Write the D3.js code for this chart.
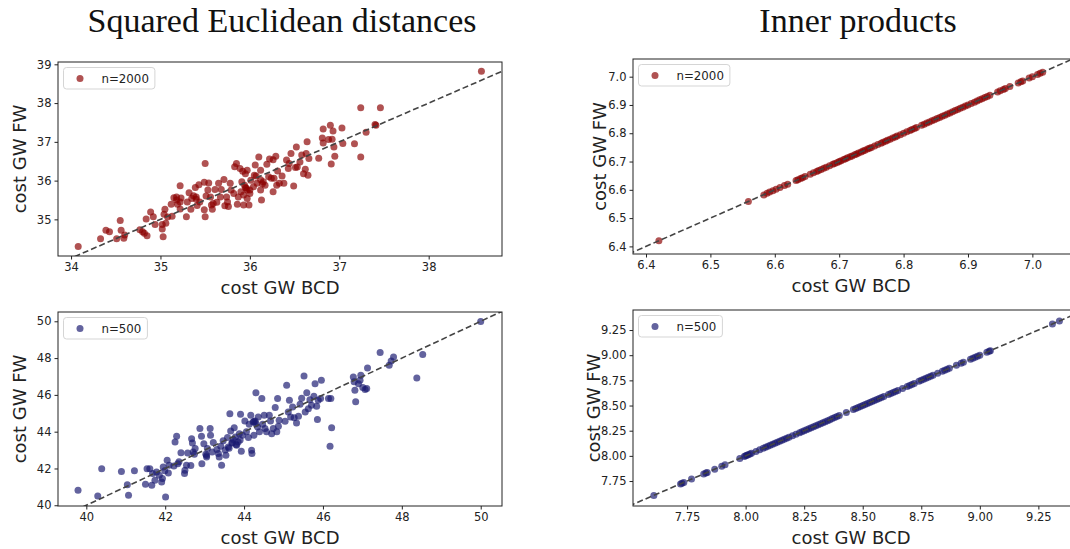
<!DOCTYPE html>
<html lang="en">
<head>
<meta charset="utf-8">
<title>GW costs: BCD vs FW</title>
<script src="https://d3js.org/d3.v7.min.js"></script>
<style>
  body { margin: 0; background: #fff; }
  svg text { font-family: "DejaVu Sans", sans-serif; fill: #222; }
  .title { font-family: "Liberation Serif", "Times New Roman", serif; fill: #111; }
</style>
</head>
<body>
<div id="chart"></div>
<script>

var W = 1070, H = 549;

// ---- data: [cost GW BCD, cost GW FW] ----
var sqPts2000 = [
  [34.08,34.30],[34.33,34.50],[34.39,34.72],[34.43,34.68],[34.51,34.50],[34.55,34.97],[34.56,34.72],[34.59,34.51],
  [34.60,34.60],[34.77,34.73],[34.80,34.68],[34.84,35.01],[34.85,34.58],[34.82,34.64],[34.89,35.19],[34.92,35.07],
  [34.94,34.87],[35.02,34.87],[35.02,34.75],[35.03,34.55],[35.04,35.13],[35.05,35.26],[35.06,34.90],[35.08,35.06],
  [35.13,35.08],[35.12,35.39],[35.15,35.56],[35.18,35.58],[35.19,35.39],[35.22,35.45],[35.22,35.87],[35.22,35.27],
  [35.23,35.55],[35.29,35.07],[35.30,35.45],[35.32,35.69],[35.34,35.26],[35.35,35.54],[35.37,35.61],[35.39,35.82],
  [35.40,35.52],[35.41,35.36],[35.43,35.89],[35.44,35.45],[35.49,35.25],[35.49,35.96],[35.50,35.07],[35.50,36.44],
  [35.51,35.60],[35.53,35.76],[35.54,35.94],[35.56,35.58],[35.57,35.37],[35.58,35.26],[35.59,35.41],[35.61,35.77],
  [35.63,35.44],[35.65,35.93],[35.67,35.58],[35.68,35.77],[35.71,36.03],[35.72,35.35],[35.74,35.58],[35.75,35.45],
  [35.76,35.33],[35.78,35.93],[35.79,35.76],[35.82,35.67],[35.83,36.36],[35.85,36.44],[35.86,35.39],[35.87,35.58],
  [35.89,36.31],[35.90,35.71],[35.91,35.97],[35.93,35.37],[35.93,35.63],[35.94,35.88],[35.95,36.18],[35.96,35.80],
  [35.97,35.54],[35.97,36.27],[35.99,35.37],[36.00,35.76],[36.00,35.67],[36.01,36.01],[36.04,35.84],[36.06,36.40],
  [36.07,36.12],[36.08,35.93],[36.10,36.61],[36.12,35.76],[36.12,36.27],[36.13,35.50],[36.15,35.97],[36.17,35.88],
  [36.19,36.42],[36.21,36.10],[36.22,36.56],[36.24,36.06],[36.26,35.71],[36.26,36.54],[36.27,36.06],[36.29,36.63],
  [36.30,35.88],[36.31,36.25],[36.33,35.93],[36.36,36.12],[36.38,35.93],[36.41,36.53],[36.43,36.31],[36.44,36.44],
  [36.46,36.70],[36.49,35.86],[36.51,36.34],[36.52,36.87],[36.53,36.35],[36.56,36.48],[36.58,36.66],[36.60,36.18],
  [36.62,36.29],[36.63,36.70],[36.64,37.00],[36.65,36.14],[36.66,36.57],[36.77,36.58],[36.81,37.10],[36.82,37.33],
  [36.82,36.97],[36.88,37.06],[36.90,37.43],[36.91,36.43],[36.92,37.07],[36.93,37.28],[36.94,36.87],[36.95,36.63],
  [37.03,37.36],[37.04,36.96],[37.17,36.95],[37.24,36.61],[37.24,37.88],[37.30,37.25],[37.40,37.45],[37.41,37.43],
  [37.46,37.88],[38.59,38.82],
  [35.95,35.82],[35.97,35.76],[36.05,36.14],[35.40,35.58],[35.18,35.50],[36.12,36.02],[35.92,36.24],[36.14,35.92]
];

var ipPts2000 = [
  [6.420,6.420],[6.559,6.559],[6.583,6.582],[6.588,6.588],[6.592,6.592],[6.597,6.597],[6.602,6.602],[6.608,6.608],
  [6.615,6.615],[6.620,6.620],[6.633,6.633],[6.636,6.636],[6.640,6.640],[6.643,6.643],[6.647,6.647],[6.655,6.655],
  [6.660,6.660],[6.665,6.665],[6.668,6.668],[6.672,6.672],[6.676,6.676],[6.680,6.680],[6.685,6.685],[6.690,6.690],
  [6.693,6.693],[6.697,6.697],[6.700,6.700],[6.703,6.703],[6.707,6.707],[6.710,6.710],[6.713,6.713],[6.717,6.717],
  [6.720,6.720],[6.724,6.724],[6.727,6.727],[6.730,6.730],[6.734,6.734],[6.737,6.737],[6.740,6.740],[6.744,6.744],
  [6.747,6.747],[6.750,6.750],[6.755,6.755],[6.760,6.760],[6.765,6.765],[6.768,6.768],[6.772,6.772],[6.775,6.775],
  [6.779,6.779],[6.783,6.783],[6.787,6.787],[6.790,6.790],[6.795,6.795],[6.800,6.800],[6.805,6.805],[6.810,6.810],
  [6.813,6.813],[6.817,6.817],[6.820,6.820],[6.828,6.828],[6.832,6.832],[6.836,6.836],[6.840,6.840],[6.844,6.844],
  [6.848,6.848],[6.852,6.852],[6.856,6.856],[6.860,6.860],[6.864,6.864],[6.868,6.868],[6.872,6.872],[6.876,6.876],
  [6.880,6.880],[6.884,6.884],[6.888,6.888],[6.892,6.892],[6.896,6.896],[6.900,6.900],[6.905,6.905],[6.910,6.910],
  [6.914,6.914],[6.918,6.918],[6.922,6.922],[6.926,6.926],[6.930,6.930],[6.934,6.934],[6.946,6.946],[6.950,6.950],
  [6.955,6.955],[6.958,6.958],[6.965,6.965],[6.978,6.978],[6.982,6.982],[6.985,6.985],[6.995,6.995],[7.000,7.000],
  [7.008,7.008],[7.012,7.012],[7.016,7.016]
];

var sqPts500 = [
  [39.79,40.82],[40.29,40.51],[40.39,41.99],[40.89,41.83],[41.04,41.12],[41.07,40.54],[41.22,41.87],[41.50,41.14],
  [41.54,41.99],[41.61,41.99],[41.66,41.09],[41.68,41.72],[41.74,41.36],[41.78,41.81],[41.85,41.63],[41.91,41.27],
  [41.93,41.45],[41.95,42.08],[41.99,41.87],[42.01,40.45],[42.05,42.45],[42.08,41.76],[42.10,42.17],[42.22,42.14],
  [42.25,43.44],[42.29,43.75],[42.32,42.26],[42.35,42.36],[42.40,42.86],[42.49,41.72],[42.50,41.90],[42.54,42.17],
  [42.57,42.84],[42.65,42.16],[42.67,43.62],[42.69,43.39],[42.71,42.90],[42.74,42.77],[42.76,43.08],[42.88,44.17],
  [42.92,43.75],[42.93,42.26],[42.98,43.35],[43.03,42.77],[43.05,42.63],[43.07,43.08],[43.14,44.17],[43.15,43.80],
  [43.19,42.90],[43.22,43.41],[43.31,43.03],[43.35,42.81],[43.37,42.63],[43.41,43.21],[43.43,42.17],[43.47,43.50],
  [43.52,43.00],[43.54,42.72],[43.58,43.68],[43.60,43.17],[43.64,44.98],[43.66,44.04],[43.69,43.39],[43.73,43.57],
  [43.75,44.22],[43.78,43.71],[43.81,43.26],[43.85,43.44],[43.88,43.89],[43.91,44.95],[43.93,42.93],[43.96,43.80],
  [44.02,44.58],[44.06,43.99],[44.11,43.68],[44.13,44.40],[44.17,44.89],[44.19,42.99],[44.20,42.81],[44.23,44.53],
  [44.25,43.80],[44.28,44.58],[44.30,46.11],[44.34,44.26],[44.36,44.80],[44.39,43.99],[44.45,45.80],[44.47,44.40],
  [44.51,44.89],[44.53,44.17],[44.57,43.99],[44.64,44.89],[44.67,44.58],[44.70,43.89],[44.74,44.17],[44.79,45.31],
  [44.83,43.99],[44.85,45.80],[44.87,44.29],[44.89,44.62],[45.04,44.57],[45.08,46.52],[45.12,45.07],[45.15,45.71],
  [45.18,44.80],[45.23,45.34],[45.27,44.76],[45.33,44.47],[45.38,44.84],[45.42,45.49],[45.46,45.82],[45.52,47.03],
  [45.55,45.07],[45.59,46.11],[45.63,45.25],[45.67,45.74],[45.71,45.43],[45.77,45.92],[45.80,46.61],[45.84,45.38],
  [45.86,44.66],[45.88,45.71],[45.94,45.80],[45.96,46.79],[46.14,45.80],[46.18,43.21],[46.20,45.80],[46.22,44.22],
  [46.77,46.97],[46.79,46.72],[46.81,46.25],[46.83,45.62],[46.90,46.61],[46.94,46.79],[46.96,47.07],[47.01,46.40],
  [47.07,46.29],[47.11,46.34],[47.13,47.46],[47.45,48.30],[47.68,47.61],[47.73,47.84],[47.79,48.06],[48.38,46.92],
  [48.53,48.19],[50.00,49.99],
  [43.70,43.40],[43.80,43.30],[44.25,44.55],[43.05,42.70],[43.62,43.10],[44.30,44.45],[43.90,43.55]
];

var ipPts500 = [
  [7.608,7.606],[7.722,7.721],[7.728,7.727],[7.736,7.736],[7.769,7.769],[7.821,7.821],[7.830,7.830],[7.836,7.836],
  [7.868,7.868],[7.898,7.898],[7.912,7.912],[7.975,7.975],[7.994,7.994],[8.000,8.000],[8.005,8.005],[8.011,8.011],
  [8.018,8.018],[8.025,8.025],[8.044,8.044],[8.060,8.060],[8.075,8.075],[8.085,8.085],[8.095,8.095],[8.105,8.105],
  [8.115,8.115],[8.125,8.125],[8.135,8.135],[8.145,8.145],[8.155,8.155],[8.165,8.165],[8.175,8.175],[8.185,8.185],
  [8.200,8.200],[8.215,8.215],[8.230,8.230],[8.240,8.240],[8.250,8.250],[8.260,8.260],[8.270,8.270],[8.280,8.280],
  [8.290,8.290],[8.300,8.300],[8.310,8.310],[8.320,8.320],[8.330,8.330],[8.340,8.340],[8.350,8.350],[8.360,8.360],
  [8.370,8.370],[8.380,8.380],[8.390,8.390],[8.400,8.400],[8.430,8.430],[8.460,8.460],[8.470,8.470],[8.480,8.480],
  [8.490,8.490],[8.500,8.500],[8.510,8.510],[8.520,8.520],[8.530,8.530],[8.540,8.540],[8.550,8.550],[8.560,8.560],
  [8.570,8.570],[8.580,8.580],[8.590,8.590],[8.610,8.610],[8.620,8.620],[8.630,8.630],[8.640,8.640],[8.650,8.650],
  [8.670,8.670],[8.690,8.690],[8.700,8.700],[8.710,8.710],[8.720,8.720],[8.740,8.740],[8.750,8.750],[8.760,8.760],
  [8.770,8.770],[8.780,8.780],[8.790,8.790],[8.800,8.800],[8.820,8.820],[8.840,8.840],[8.850,8.850],[8.860,8.860],
  [8.870,8.870],[8.900,8.900],[8.920,8.920],[8.930,8.930],[8.960,8.960],[8.970,8.970],[8.980,8.980],[8.990,8.990],
  [9.000,9.000],[9.030,9.030],[9.040,9.040],[9.045,9.045],[9.310,9.310],[9.340,9.340]
];

// ---- tick labels ----
var sqTicksX2000 = [34, 35, 36, 37, 38];
var sqTicksY2000 = [35, 36, 37, 38, 39];
var ipTicks2000 = [6.4, 6.5, 6.6, 6.7, 6.8, 6.9, 7.0];
var sqTicks500 = [40, 42, 44, 46, 48, 50];
var ipTicks500 = [7.75, 8.00, 8.25, 8.50, 8.75, 9.00, 9.25];

var titles = ["Squared Euclidean distances", "Inner products"];
var legendLabels = ["n=2000", "n=500"];
var colors = ["#8b0000", "#191970"];

var svg = d3.select("#chart").append("svg")
  .attr("width", W)
  .attr("height", H);

// titles
svg.append("text").attr("class", "title")
  .attr("x", 282).attr("y", 32)
  .attr("text-anchor", "middle").style("font-size", "34px")
  .text(titles[0]);
svg.append("text").attr("class", "title")
  .attr("x", 858).attr("y", 32)
  .attr("text-anchor", "middle").style("font-size", "34px")
  .text(titles[1]);

drawPanel({id: "p1", left: 58, top: 62, w: 444, h: 194,
  xd: [33.854, 38.82], yd: [34.055, 39.06],
  xt: sqTicksX2000, yt: sqTicksY2000, fmt: d3.format("d"),
  pts: sqPts2000, color: colors[0], label: legendLabels[0], ylabOff: 32});

drawPanel({id: "p2", left: 633, top: 59, w: 444, h: 195,
  xd: [6.3798, 7.0693], yd: [6.3731, 7.0625],
  xt: ipTicks2000, yt: ipTicks2000, fmt: d3.format(".1f"),
  pts: ipPts2000, color: colors[0], label: legendLabels[0], ylabOff: 27});

drawPanel({id: "p3", left: 58, top: 312, w: 444, h: 194,
  xd: [39.282, 50.54], yd: [39.96, 50.505],
  xt: sqTicks500, yt: sqTicks500, fmt: d3.format("d"),
  pts: sqPts500, color: colors[1], label: legendLabels[1], ylabOff: 32});

drawPanel({id: "p4", left: 633, top: 310, w: 444, h: 196,
  xd: [7.519, 9.415], yd: [7.502, 9.449],
  xt: ipTicks500, yt: ipTicks500, fmt: d3.format(".2f"),
  pts: ipPts500, color: colors[1], label: legendLabels[1], ylabOff: 33});

function drawPanel(c){
  var g = svg.append("g").attr("transform", "translate(" + c.left + "," + c.top + ")");
  var x = d3.scaleLinear().domain(c.xd).range([0, c.w]);
  var y = d3.scaleLinear().domain(c.yd).range([c.h, 0]);

  g.append("clipPath").attr("id", "clip-" + c.id)
    .append("rect").attr("width", c.w).attr("height", c.h);

  var inner = g.append("g").attr("clip-path", "url(#clip-" + c.id + ")");

  // points
  inner.selectAll("circle")
    .data(c.pts)
    .enter()
    .append("circle")
    .attr("cx", function(d){ return x(d[0]); })
    .attr("cy", function(d){ return y(d[1]); })
    .attr("r", 3.5)
    .attr("fill", c.color)
    .attr("fill-opacity", 0.68);

  // y = x reference line
  var lo = Math.min(c.xd[0], c.yd[0]), hi = Math.max(c.xd[1], c.yd[1]);
  inner.append("line")
    .attr("x1", x(lo)).attr("y1", y(lo))
    .attr("x2", x(hi)).attr("y2", y(hi))
    .attr("stroke", "#444")
    .attr("stroke-width", 1.6)
    .attr("stroke-dasharray", "6,3");

  // axes
  var xa = g.append("g").attr("transform", "translate(0," + c.h + ")")
    .call(d3.axisBottom(x).tickValues(c.xt).tickFormat(c.fmt).tickSizeOuter(0).tickSize(3.5).tickPadding(3));
  var ya = g.append("g")
    .call(d3.axisLeft(y).tickValues(c.yt).tickFormat(c.fmt).tickSizeOuter(0).tickSize(3.5).tickPadding(3));
  [xa, ya].forEach(function(a){
    a.select(".domain").remove();
    a.selectAll("line").attr("stroke", "#222");
    a.selectAll("text").style("font-size", "11.5px").style("fill", "#222")
      .style("font-family", "DejaVu Sans, sans-serif");
  });

  // frame
  g.append("rect").attr("width", c.w).attr("height", c.h)
    .attr("fill", "none").attr("stroke", "#222").attr("stroke-width", 1);

  // axis labels
  g.append("text")
    .attr("x", c.w / 2 - (c.left > 600 ? 4 : 0)).attr("y", c.h + 38)
    .attr("text-anchor", "middle").style("font-size", "18px")
    .text("cost GW BCD");
  g.append("text")
    .attr("transform", "rotate(-90)")
    .attr("x", -c.h / 2).attr("y", -c.ylabOff)
    .attr("text-anchor", "middle").style("font-size", "18px")
    .text("cost GW FW");

  // legend
  var lg = g.append("g").attr("transform", "translate(5.5,5.5)");
  var lbl = lg.append("text").attr("x", 38).attr("y", 15.3)
    .style("font-size", "11.8px").text(c.label);
  var tw = lbl.node().getComputedTextLength();
  lg.insert("rect", "text")
    .attr("width", 38 + tw + 6).attr("height", 21.5)
    .attr("rx", 3)
    .attr("fill", "#fff").attr("fill-opacity", 0.8)
    .attr("stroke", "#d5d5d5").attr("stroke-width", 1);
  lg.append("circle").attr("cx", 16.5).attr("cy", 11)
    .attr("r", 3.5).attr("fill", c.color).attr("fill-opacity", 0.68);
}
</script>
</body>
</html>
